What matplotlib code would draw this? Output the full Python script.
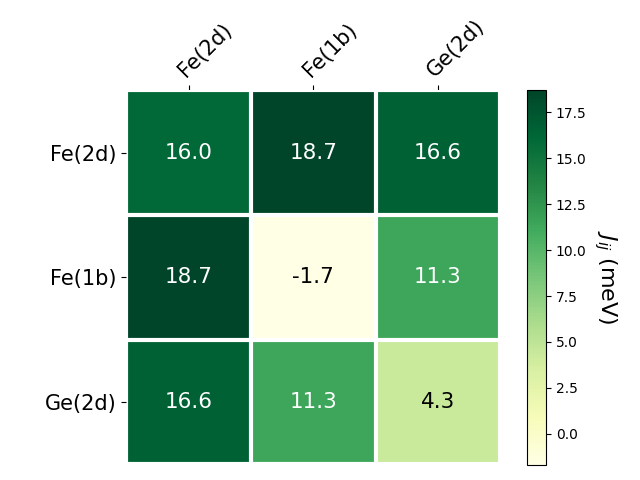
import numpy as np
import matplotlib
matplotlib.use("Agg")
import matplotlib.pyplot as plt

labels = ["Fe(2d)", "Fe(1b)", "Ge(2d)"]
values = np.array([[16.0, 18.7, 16.6],
                   [18.7, -1.7, 11.3],
                   [16.6, 11.3, 4.3]])

fig = plt.figure(figsize=(6.4, 4.8), dpi=100)
ax = fig.add_axes([0.197, 0.033, 0.585, 0.779])
cax = fig.add_axes([0.823, 0.031, 0.030, 0.781])

im = ax.imshow(values, cmap="YlGn")
cbar = fig.colorbar(im, cax=cax)
cbar.ax.set_ylabel("$J_{ij}$ (meV)", rotation=-90, va="bottom", fontsize=16)

ax.set_xticks(np.arange(len(labels)))
ax.set_yticks(np.arange(len(labels)))
ax.set_xticklabels(labels, fontsize=15)
ax.set_yticklabels(labels, fontsize=15)
ax.tick_params(top=True, bottom=False, labeltop=True, labelbottom=False)
plt.setp(ax.get_xticklabels(), rotation=45, ha="left", rotation_mode="anchor")

for s in ax.spines.values():
    s.set_visible(False)
ax.set_xticks(np.arange(values.shape[1] + 1) - .5, minor=True)
ax.set_yticks(np.arange(values.shape[0] + 1) - .5, minor=True)
ax.grid(which="minor", color="w", linestyle="-", linewidth=3)
ax.tick_params(which="minor", bottom=False, left=False, top=False)

thr = im.norm(values.max()) / 2.
for i in range(values.shape[0]):
    for j in range(values.shape[1]):
        c = "white" if im.norm(values[i, j]) > thr else "black"
        ax.text(j, i, f"{values[i, j]:.1f}", ha="center", va="center", color=c, fontsize=15.5)

fig.savefig("out.png", dpi=100)
